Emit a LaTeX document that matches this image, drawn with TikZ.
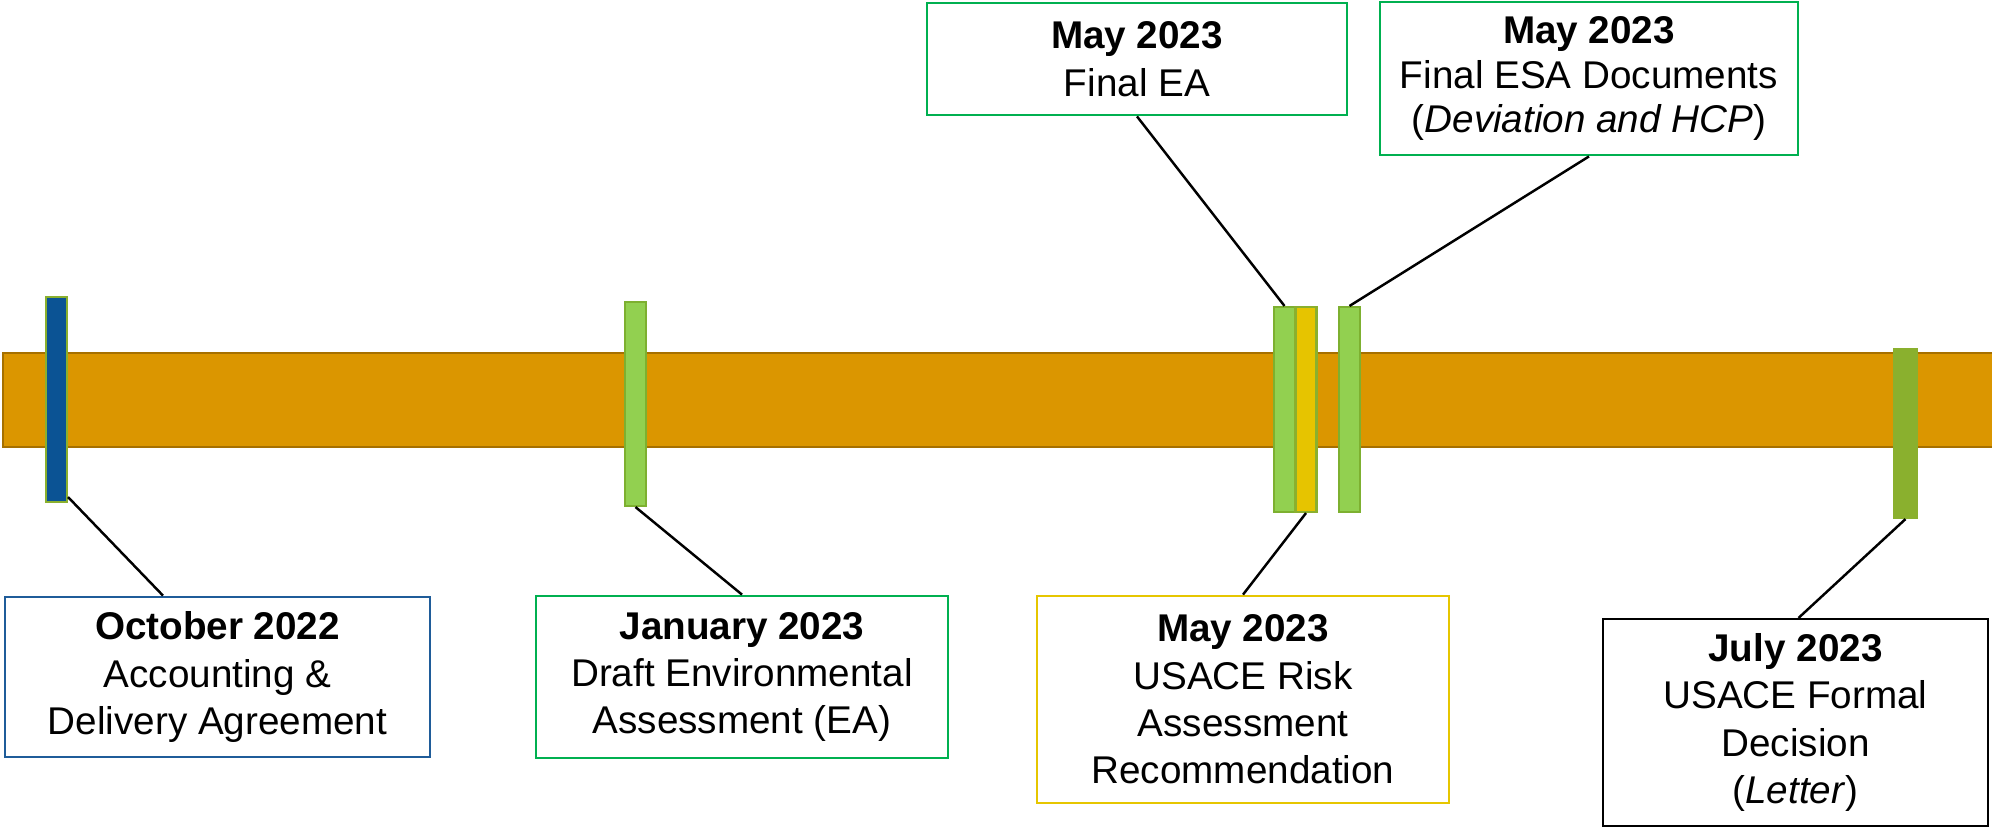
\documentclass[tikz,border=0pt]{standalone}
\usepackage{fontspec}
\setmainfont{Liberation Sans}
\usetikzlibrary{positioning, calc}

\definecolor{barfill}{HTML}{DB9600}
\definecolor{bardraw}{HTML}{A67000}
\definecolor{mblue}{HTML}{0B5394}
\definecolor{mgreen}{HTML}{92D050}
\definecolor{mgreenline}{HTML}{7DB030}
\definecolor{myellow}{HTML}{E6C400}
\definecolor{mdark}{HTML}{8AB02E}
\definecolor{bblue}{HTML}{1F5C99}
\definecolor{bgreen}{HTML}{00B050}
\definecolor{byellow}{HTML}{E6C600}

\begin{document}
\begin{tikzpicture}[x=0.02cm, y=-0.02cm]

  % --- CONFIGURAÇÕES GERAIS ---
  \def\pxu{0.02cm}
  \useasboundingbox (0,0) rectangle (1992,833);

  % Estilos
  \tikzstyle{marker}=[rectangle, inner sep=0pt, minimum width=21*\pxu, minimum height=205*\pxu, line width=1.2pt]
  \tikzstyle{event}=[rectangle, draw, fill=white, line width=1.6pt, align=center, inner sep=2pt, font=\fontsize{22}{27}\selectfont]
  \tikzstyle{link}=[line width=1.4pt, black]

  % --- BARRA DO TEMPO ---
  \draw [fill=barfill, draw=bardraw, line width=1.2pt] (3,353) rectangle (1996,447);

  % --- MARCADORES ---
  \node[marker, fill=mblue, draw=mdark] (mOct) at (56.5,399.5) {};
  \node[marker, fill=mgreen, draw=mgreenline, minimum height=204*\pxu] (mJan) at (635.5,404) {};
  \node[marker, fill=mgreen, draw=mgreenline] (mEA) at (1284.5,409.5) {};
  \node[marker, fill=myellow, draw=mdark] (mRisk) at (1306,409.5) {};
  \node[marker, fill=mgreen, draw=mgreenline] (mESA) at (1349.5,409.5) {};
  \node[marker, fill=mdark, draw=mdark, minimum height=169*\pxu, minimum width=22*\pxu] (mJuly) at (1905.5,433.5) {};

  % --- CAIXAS (abaixo) ---
  \node[event, draw=bblue, minimum width=425*\pxu, minimum height=160*\pxu] (bOct) at (217.5,677)
    {\textbf{October 2022}\\Accounting \&\\Delivery Agreement};
  \node[event, draw=bgreen, minimum width=412*\pxu, minimum height=162*\pxu] (bJan) at (742,677)
    {\textbf{January 2023}\\Draft Environmental\\Assessment (EA)};
  \node[event, draw=byellow, minimum width=412*\pxu, minimum height=207*\pxu] (bRisk) at (1243,699.5)
    {\textbf{May 2023}\\USACE Risk\\Assessment\\Recommendation};
  \node[event, draw=black, line width=1.2pt, minimum width=385*\pxu, minimum height=207*\pxu] (bJuly) at (1795.5,722.5)
    {\textbf{July 2023}\\USACE Formal\\Decision\\(\textit{Letter})};

  % --- CAIXAS (acima) ---
  \node[event, draw=bgreen, minimum width=420*\pxu, minimum height=112*\pxu] (bEA) at (1137,59)
    {\textbf{May 2023}\\Final EA};
  \node[event, draw=bgreen, minimum width=418*\pxu, minimum height=153*\pxu,
        font=\fontsize{22}{25.5}\selectfont] (bESA) at (1589,78.5)
    {\textbf{May 2023}\\Final ESA Documents\\(\textit{Deviation and HCP})};

  % --- LIGAÇÕES ---
  \draw [link] ($(mOct.south east)+(0,-6)$) -- ($(bOct.north)+(-54.5,0)$);
  \draw [link] (mJan.south) -- (bJan.north);
  \draw [link] (mRisk.south) -- (bRisk.north);
  \draw [link] (mJuly.south) -- ($(bJuly.north)+(3,0)$);
  \draw [link] (bEA.south) -- (mEA.north);
  \draw [link] (bESA.south) -- (mESA.north);

\end{tikzpicture}
\end{document}
